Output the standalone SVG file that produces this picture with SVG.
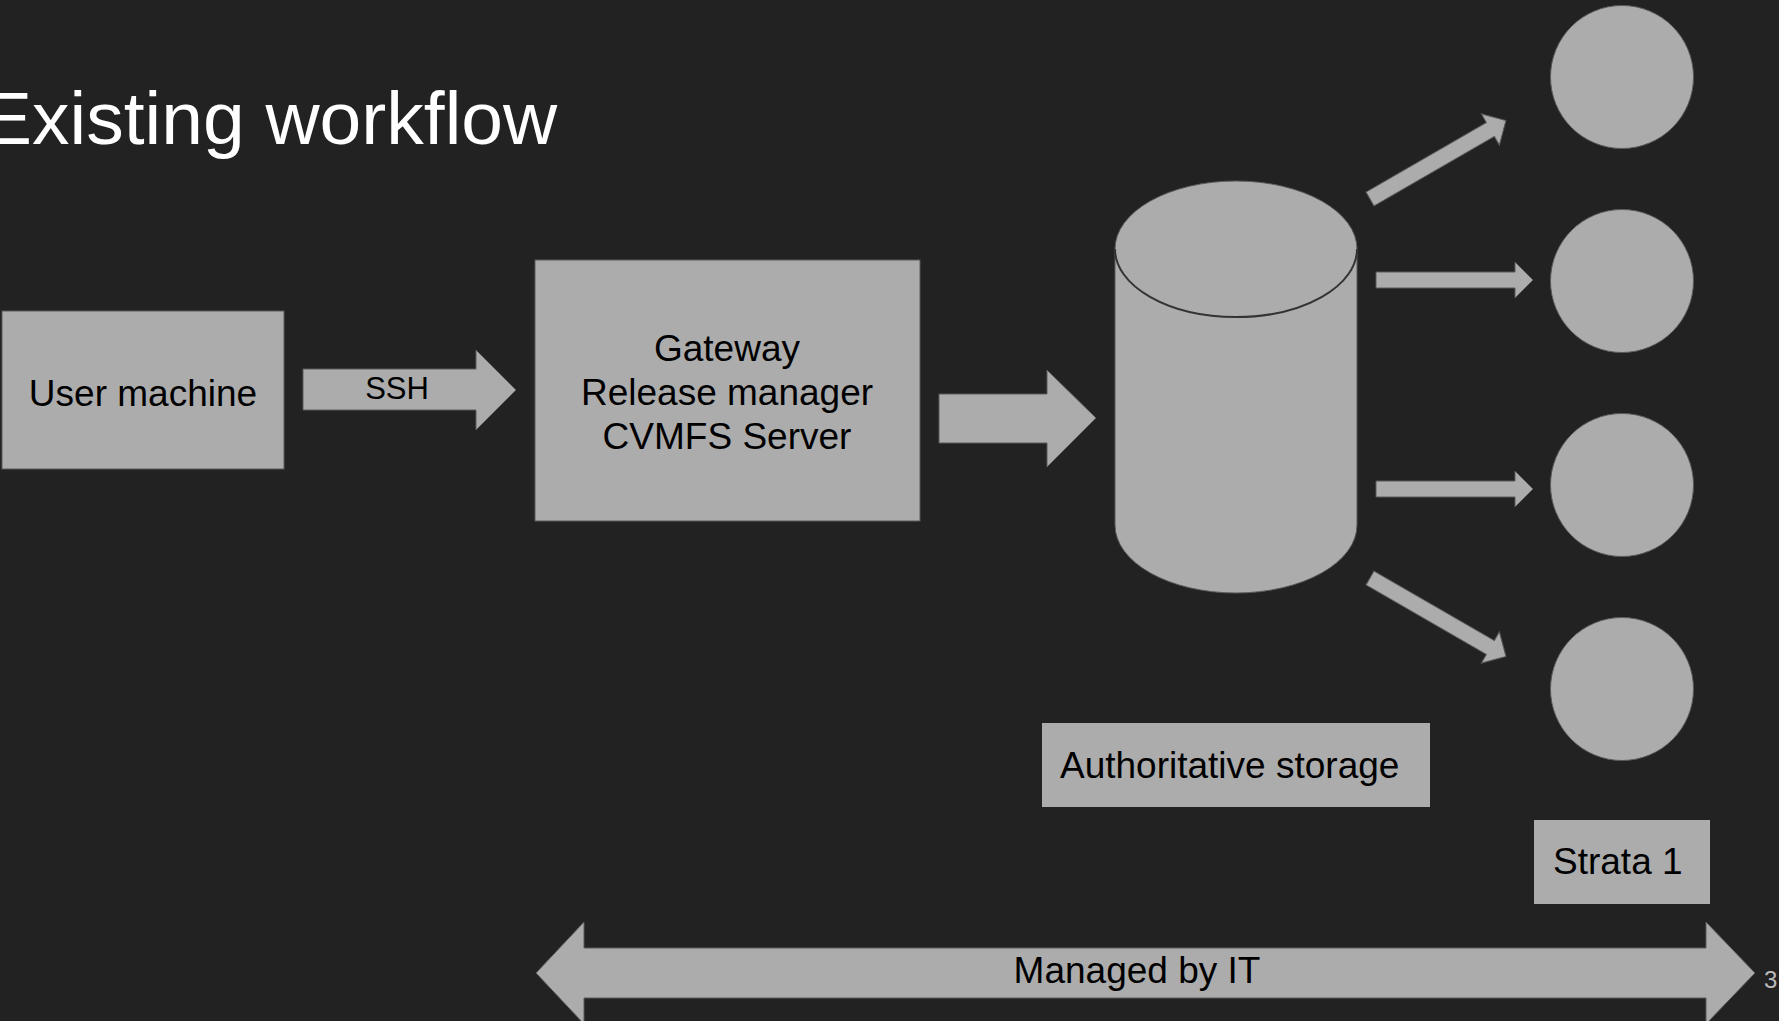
<svg xmlns="http://www.w3.org/2000/svg" width="1779" height="1021" viewBox="0 0 1779 1021">
  <style>
    .shape { fill: #acacac; stroke: #5a5a5a; stroke-width: 1; }
    .arrow { fill: #acacac; stroke: #5a5a5a; stroke-width: 1; }
    .label { font-family: "Liberation Sans", Arial, sans-serif; font-size: 37px; fill: #000; }
    .small { font-size: 31px; }
    .mid { text-anchor: middle; }
  </style>
  <defs>
    <!-- slim arrow pointing along +x, tail centred at the origin -->
    <polygon id="slim-arrow" points="0,-8 139,-8 139,-18 157,0 139,18 139,8 0,8"/>
  </defs>

  <rect width="1779" height="1021" fill="#222222"/>

  <text x="-18" y="144" font-family="Liberation Sans, Arial, sans-serif" font-size="75" fill="#ffffff">Existing workflow</text>

  <g id="connectors">
    <!-- SSH arrow -->
    <polygon class="arrow" points="303,369 476,369 476,350 516,390 476,430 476,410 303,410"/>
    <text class="label small mid" x="397" y="399">SSH</text>
    <!-- gateway to storage -->
    <polygon class="arrow" points="939,394 1047,394 1047,370 1096,418 1047,467 1047,443 939,443"/>
    <!-- storage to strata 1 servers -->
    <use href="#slim-arrow" class="arrow" transform="translate(1370,199) rotate(-30)"/>
    <use href="#slim-arrow" class="arrow" transform="translate(1376,280)"/>
    <use href="#slim-arrow" class="arrow" transform="translate(1376,489)"/>
    <use href="#slim-arrow" class="arrow" transform="translate(1370,578) rotate(30)"/>
    <!-- managed-by-IT span -->
    <polygon class="arrow" points="536,973 584,922 584,948 1706,948 1706,922 1755,973 1706,1024 1706,998 584,998 584,1024"/>
    <text class="label mid" x="1137" y="983">Managed by IT</text>
  </g>

  <g id="user-machine">
    <rect class="shape" x="2" y="311" width="282" height="158"/>
    <text class="label mid" x="143" y="406">User machine</text>
  </g>

  <g id="gateway">
    <rect class="shape" x="535" y="260" width="385" height="261"/>
    <text class="label mid" x="727" y="361">Gateway</text>
    <text class="label mid" x="727" y="405">Release manager</text>
    <text class="label mid" x="727" y="449">CVMFS Server</text>
  </g>

  <g id="storage">
    <path class="shape" d="M1115,249 A121,68 0 0 1 1357,249 L1357,525 A121,68 0 0 1 1115,525 Z"/>
    <path d="M1115,249 A121,68 0 0 0 1357,249" fill="none" stroke="#333333" stroke-width="2"/>
  </g>

  <g id="stratum-1a"><circle class="shape" cx="1622" cy="77" r="71.5"/></g>
  <g id="stratum-1b"><circle class="shape" cx="1622" cy="281" r="71.5"/></g>
  <g id="stratum-1c"><circle class="shape" cx="1622" cy="485" r="71.5"/></g>
  <g id="stratum-1d"><circle class="shape" cx="1622" cy="689" r="71.5"/></g>

  <g id="storage-label">
    <rect x="1042" y="723" width="388" height="84" fill="#acacac"/>
    <text class="label" x="1060" y="778">Authoritative storage</text>
  </g>

  <g id="strata-label">
    <rect x="1534" y="820" width="176" height="84" fill="#acacac"/>
    <text class="label" x="1553" y="874">Strata 1</text>
  </g>

  <text x="1764" y="988" font-family="Liberation Sans, Arial, sans-serif" font-size="24" fill="#bbbbbb">3</text>
</svg>
